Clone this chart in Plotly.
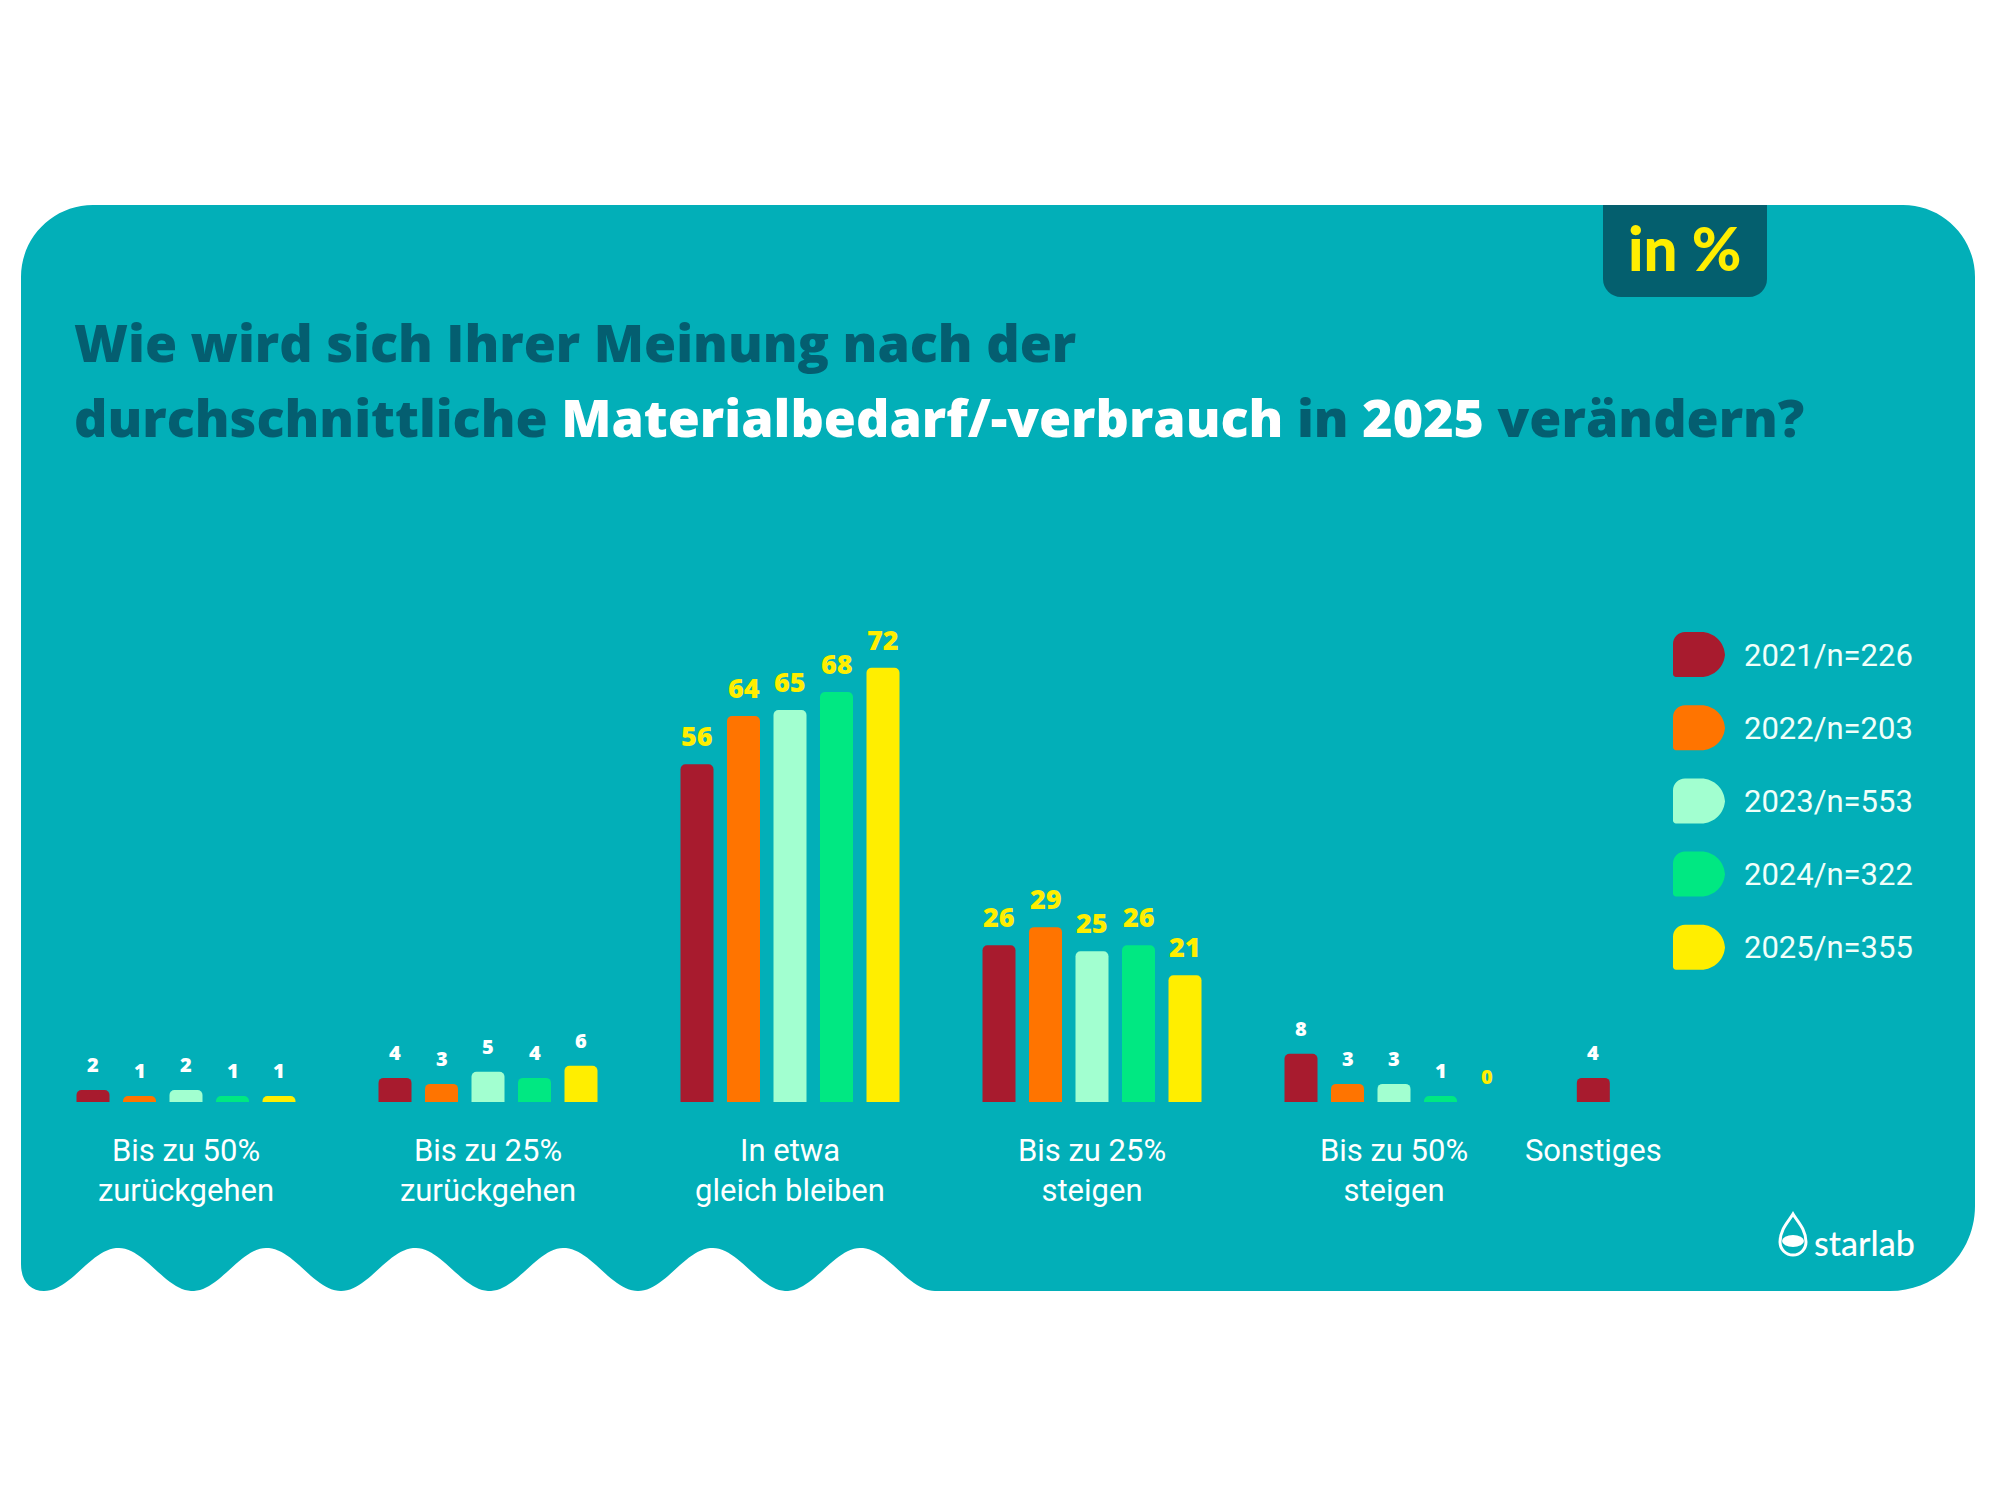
import math
import plotly.graph_objects as go

# ---------------- data ----------------
categories = ["Bis zu 50%<br>zurückgehen", "Bis zu 25%<br>zurückgehen", "In etwa<br>gleich bleiben",
              "Bis zu 25%<br>steigen", "Bis zu 50%<br>steigen", "Sonstiges"]
series_names = ["2021/n=226", "2022/n=203", "2023/n=553", "2024/n=322", "2025/n=355"]
v2021 = [2, 4, 56, 26, 8, 4]
v2022 = [1, 3, 64, 29, 3, None]
v2023 = [2, 5, 65, 25, 3, None]
v2024 = [1, 4, 68, 26, 1, None]
v2025 = [1, 6, 72, 21, 0, None]
series_values = [v2021, v2022, v2023, v2024, v2025]

# ---------------- styles / layout ----------------
colors = ["#A81B2E", "#FF7400", "#A2FFD0", "#00E882", "#FFEE00"]
TEAL = "#02AFB8"
DARK = "#045E70"
YELLOW = "#FFEE00"
WHITE = "#FFFFFF"
big_label_groups = [False, False, True, True, False, False]

W, H = 2000, 1500
BASE_PY = 1102          # pixel row of the baseline
PX_PER_UNIT = 6.03      # pixels per percentage point
X0_PX = 186             # pixel column of first group centre
GROUP_PX = 302          # pixels between group centres
group_pos = [0, 1, 2, 3, 4, 4.66]
BAR_W = 33 / GROUP_PX
PITCH = 46.5 / GROUP_PX


def X(px):
    return px / W


def Y(py):
    return 1 - py / H


fig = go.Figure()

# bar positions: centre the non-missing bars of each group
counts = [sum(1 for s in series_values if s[g] is not None) for g in range(len(categories))]
annotations = []
for i, (name, vals, col) in enumerate(zip(series_names, series_values, colors)):
    xs, ys = [], []
    for g, v in enumerate(vals):
        if v is None:
            continue
        idx = sum(1 for s in series_values[:i] if s[g] is not None)
        x = group_pos[g] + (idx - (counts[g] - 1) / 2) * PITCH
        xs.append(x)
        ys.append(v)
        big = big_label_groups[g]
        annotations.append(dict(
            x=x, y=v, xref="x", yref="y", text=str(v), showarrow=False,
            yanchor="bottom", xanchor="center", yshift=8 if big else 10,
            font=dict(family="Open Sans", size=27 if big else 20,
                      color=YELLOW if (big or v == 0) else WHITE, weight=800)))
    fig.add_trace(go.Bar(x=xs, y=ys, name=name, width=BAR_W,
                         marker=dict(color=col, line=dict(width=0)),
                         showlegend=False, hoverinfo="x+y+name"))

# ---------------- background shape ----------------
k = 0.5523
L, R, T, B = 21, 1975, 205, 1291
r1, r2 = 72, 85
path = (f"M {X(L)},{Y(T + r1)} "
        f"C {X(L)},{Y(T + r1 - k * r1)} {X(L + r1 - k * r1)},{Y(T)} {X(L + r1)},{Y(T)} "
        f"L {X(R - r1)},{Y(T)} "
        f"C {X(R - r1 + k * r1)},{Y(T)} {X(R)},{Y(T + r1 - k * r1)} {X(R)},{Y(T + r1)} "
        f"L {X(R)},{Y(B - r2)} "
        f"C {X(R)},{Y(B - r2 + k * r2)} {X(R - r2 + k * r2)},{Y(B)} {X(R - r2)},{Y(B)} "
        f"L {X(935)},{Y(B)} ")
x = 935.0
while x > 44:
    yy = 1269.5 + 21.5 * math.cos(2 * math.pi * (x - 44) / 148.5)
    path += f"L {X(x)},{Y(yy)} "
    x -= 3
path += f"L {X(44)},{Y(B)} C {X(31)},{Y(B)} {X(L)},{Y(1282)} {X(L)},{Y(1264)} Z"

shapes = [dict(type="path", path=path, xref="paper", yref="paper",
               fillcolor=TEAL, line=dict(width=0), layer="below")]

# "in %" box
bx0, bx1, by0, by1, br = 1603, 1767, 205, 297, 18
box = (f"M {X(bx0)},{Y(by0)} L {X(bx1)},{Y(by0)} L {X(bx1)},{Y(by1 - br)} "
       f"C {X(bx1)},{Y(by1 - br + k * br)} {X(bx1 - br + k * br)},{Y(by1)} {X(bx1 - br)},{Y(by1)} "
       f"L {X(bx0 + br)},{Y(by1)} "
       f"C {X(bx0 + br - k * br)},{Y(by1)} {X(bx0)},{Y(by1 - br + k * br)} {X(bx0)},{Y(by1 - br)} Z")
shapes.append(dict(type="path", path=box, xref="paper", yref="paper",
                   fillcolor="#045F6E", line=dict(width=0), layer="below"))
annotations.append(dict(x=X(1685), y=Y(248), xref="paper", yref="paper", text="in %",
                        showarrow=False, xanchor="center", yanchor="middle",
                        font=dict(family="Lato", size=60, color=YELLOW, weight=900)))

# title
TITLE_FONT = dict(family="Open Sans", size=52, color=DARK, weight=800)
annotations.append(dict(x=X(72), y=Y(342), xref="paper", yref="paper",
                        text="Wie wird sich Ihrer Meinung nach der",
                        showarrow=False, xanchor="left", yanchor="middle", font=TITLE_FONT))
annotations.append(dict(x=X(72), y=Y(416), xref="paper", yref="paper",
                        text=(f"durchschnittliche <span style='color:{WHITE}'>Materialbedarf/-verbrauch</span> in "
                              f"<span style='color:{WHITE}'>2025</span> verändern?"),
                        showarrow=False, xanchor="left", yanchor="middle", font=TITLE_FONT))


# legend (custom swatches)
def swatch(x0, y0, x1, y1, rtl=12, rtr=24, rbr=24, rbl=3):
    return (f"M {X(x0)},{Y(y0 + rtl)} "
            f"C {X(x0)},{Y(y0 + rtl - k * rtl)} {X(x0 + rtl - k * rtl)},{Y(y0)} {X(x0 + rtl)},{Y(y0)} "
            f"L {X(x1 - rtr)},{Y(y0)} "
            f"C {X(x1 - rtr + k * rtr)},{Y(y0)} {X(x1)},{Y(y0 + rtr - k * rtr)} {X(x1)},{Y(y0 + rtr)} "
            f"L {X(x1)},{Y(y1 - rbr)} "
            f"C {X(x1)},{Y(y1 - rbr + k * rbr)} {X(x1 - rbr + k * rbr)},{Y(y1)} {X(x1 - rbr)},{Y(y1)} "
            f"L {X(x0 + rbl)},{Y(y1)} "
            f"C {X(x0 + rbl - k * rbl)},{Y(y1)} {X(x0)},{Y(y1 - rbl + k * rbl)} {X(x0)},{Y(y1 - rbl)} Z")


for i, (name, col) in enumerate(zip(series_names, colors)):
    cy = 655 + 73.2 * i
    shapes.append(dict(type="path", path=swatch(1673, cy - 23, 1725, cy + 22),
                       xref="paper", yref="paper", fillcolor=col, line=dict(width=0)))
    annotations.append(dict(x=X(1742), y=Y(cy), xref="paper", yref="paper", text=name,
                            showarrow=False, xanchor="left", yanchor="middle",
                            font=dict(family="Roboto", size=31, color="#F0FFFA")))

# logo
cx, cyl, rr = 1793, 1242, 13
drop = (f"M {X(cx)},{Y(1214)} C {X(cx - 4)},{Y(1221)} {X(cx - rr)},{Y(1229)} {X(cx - rr)},{Y(cyl)} "
        f"C {X(cx - rr)},{Y(cyl + k * rr)} {X(cx - k * rr)},{Y(cyl + rr)} {X(cx)},{Y(cyl + rr)} "
        f"C {X(cx + k * rr)},{Y(cyl + rr)} {X(cx + rr)},{Y(cyl + k * rr)} {X(cx + rr)},{Y(cyl)} "
        f"C {X(cx + rr)},{Y(1229)} {X(cx + 4)},{Y(1221)} {X(cx)},{Y(1214)} Z")
shapes.append(dict(type="path", path=drop, xref="paper", yref="paper",
                   line=dict(color=WHITE, width=3), fillcolor="rgba(0,0,0,0)"))
shapes.append(dict(type="circle", xref="paper", yref="paper",
                   x0=X(cx - 11), x1=X(cx + 11), y0=Y(cyl - 7), y1=Y(cyl + 5),
                   fillcolor=WHITE, line=dict(width=0)))
annotations.append(dict(x=X(1812), y=Y(1242), xref="paper", yref="paper", text="starlab",
                        showarrow=False, xanchor="left", yanchor="middle",
                        font=dict(family="Lato", size=34, color=WHITE, weight=500)))

fig.update_layout(
    width=W, height=H,
    margin=dict(l=0, r=0, t=0, b=0),
    paper_bgcolor="white", plot_bgcolor="rgba(0,0,0,0)",
    barmode="overlay", barcornerradius=5,
    showlegend=False,
    shapes=shapes, annotations=annotations,
    xaxis=dict(range=[-X0_PX / GROUP_PX, (W - X0_PX) / GROUP_PX],
               anchor="free", position=1 - BASE_PY / H,
               tickmode="array", tickvals=group_pos, ticktext=categories,
               showgrid=False, zeroline=False, showline=False, ticks="",
               ticklabelstandoff=27,
               tickfont=dict(family="Roboto", size=31, color=WHITE), fixedrange=True),
    yaxis=dict(range=[-(H - BASE_PY) / PX_PER_UNIT, BASE_PY / PX_PER_UNIT],
               visible=False, showgrid=False, zeroline=False, fixedrange=True),
)

fig.write_html("out.html")
